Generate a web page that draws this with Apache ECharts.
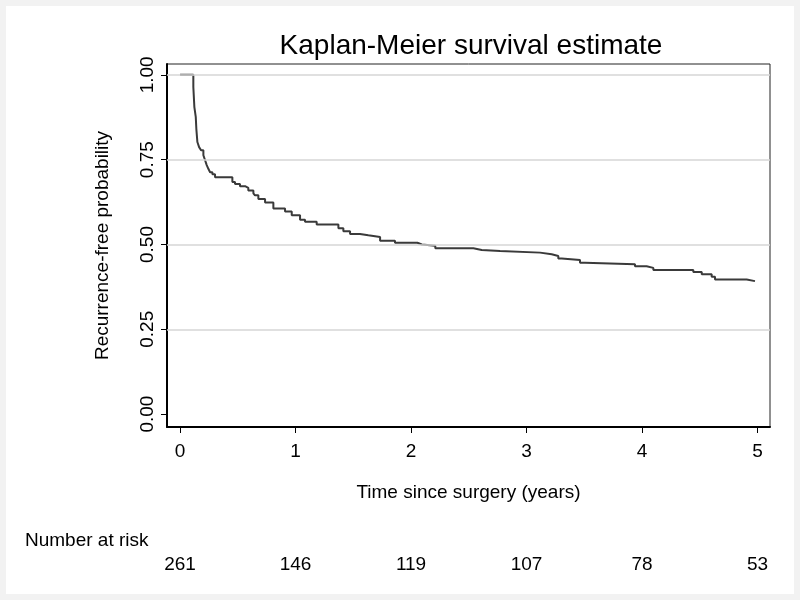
<!DOCTYPE html>
<html>
<head>
<meta charset="utf-8">
<script src="https://cdn.jsdelivr.net/npm/echarts@6/dist/echarts.min.js"></script>
<style>
  html, body { margin: 0; padding: 0; background: #f2f2f2; }
  #km { width: 800px; height: 600px; background: #fff; box-shadow: inset 0 0 0 6px #f2f2f2; }
</style>
</head>
<body>
<div id="km"></div>
<script>
// step times (years) and survival after each step
var timeYears = [0, 0.115, 0.124, 0.136, 0.141, 0.150, 0.165, 0.182, 0.202, 0.216, 0.231, 0.245, 0.260, 0.280, 0.303,
  0.453, 0.476, 0.519, 0.563, 0.591, 0.635, 0.649, 0.678, 0.736, 0.808, 0.909, 0.967, 1.039, 1.082, 1.183,
  1.371, 1.414, 1.472, 1.558, 1.630, 1.732, 1.861, 2.055, 2.093, 2.210, 2.540, 2.612, 2.771, 3.117, 3.218,
  3.275, 3.305, 3.463, 3.506, 3.939, 4.040, 4.098, 4.444, 4.517, 4.603, 4.632, 4.906, 4.978];
var survProb = [1.000, 0.964, 0.905, 0.876, 0.841, 0.802, 0.787, 0.778, 0.763, 0.749, 0.734, 0.723, 0.713, 0.707, 0.698,
  0.684, 0.678, 0.672, 0.667, 0.659, 0.651, 0.645, 0.634, 0.624, 0.606, 0.597, 0.586, 0.573, 0.567, 0.559,
  0.548, 0.539, 0.531, 0.527, 0.522, 0.511, 0.505, 0.500, 0.496, 0.489, 0.484, 0.481, 0.476, 0.471, 0.466,
  0.459, 0.454, 0.446, 0.442, 0.436, 0.431, 0.425, 0.419, 0.412, 0.405, 0.397, 0.392, 0.392];
var xTicks = [0, 1, 2, 3, 4, 5];
var yTicks = [0, 0.25, 0.5, 0.75, 1];
var yGridVals = [0.25, 0.5, 0.75, 1];
var atRisk = [261, 146, 119, 107, 78, 53];

var FONT = "'Liberation Sans', Arial, sans-serif";
var myChart = echarts.init(document.getElementById("km"));

var curve = timeYears.map(function (t, i) { return [t, survProb[i]]; });

var option = {
  animation: false,
  title: {
    text: "Kaplan-Meier survival estimate",
    left: 471, top: 32, padding: 0, textAlign: "center",
    textStyle: { fontFamily: FONT, fontSize: 28, fontWeight: "normal", color: "#000" }
  },
  graphic: [{
    type: "text", left: 25, top: 531,
    style: { text: "Number at risk", fontFamily: FONT, fontSize: 19, fill: "#000" }
  }],
  grid: [
    { left: 167, right: 30, top: 64, bottom: 173, show: true, borderColor: "#222", borderWidth: 1 },
    { left: 167, right: 30, top: 537, height: 10 }
  ],
  xAxis: [{
    type: "value", min: -0.113, max: 5.108,
    name: "Time since surgery (years)", nameLocation: "middle", nameGap: 56,
    nameTextStyle: { fontFamily: FONT, fontSize: 19, color: "#000" },
    axisLine: { show: true, onZero: false, lineStyle: { color: "#000", width: 2 } },
    axisTick: { show: true, length: 6, customValues: xTicks, lineStyle: { color: "#000" } },
    axisLabel: { customValues: xTicks, margin: 15, fontFamily: FONT, fontSize: 19, color: "#000" },
    splitLine: { show: false }
  }, {
    type: "value", gridIndex: 1, min: -0.113, max: 5.108,
    axisLine: { show: false }, axisTick: { show: false }, splitLine: { show: false },
    axisLabel: {
      customValues: xTicks, margin: 8, fontFamily: FONT, fontSize: 19, color: "#000",
      formatter: function (v) { return String(atRisk[xTicks.indexOf(v)]); }
    }
  }],
  yAxis: [{
    type: "value", min: -0.038, max: 1.032,
    name: "Recurrence-free probability", nameLocation: "middle", nameGap: 55,
    nameTextStyle: { fontFamily: FONT, fontSize: 19, color: "#000" },
    axisLine: { show: true, onZero: false, lineStyle: { color: "#000", width: 2 } },
    axisTick: { show: true, length: 6, customValues: yTicks, lineStyle: { color: "#000" } },
    axisLabel: {
      customValues: yTicks, rotate: 90, align: "center", verticalAlign: "bottom", margin: 10,
      fontFamily: FONT, fontSize: 19, color: "#000",
      formatter: function (v) { return v.toFixed(2); }
    },
    splitLine: { show: false }
  }, {
    type: "value", gridIndex: 1, show: false
  }],
  series: [{
    type: "line", z: 1, data: curve, showSymbol: false, silent: true,
    lineStyle: { width: 0, opacity: 0 },
    markLine: {
      silent: true, symbol: "none", label: { show: false },
      lineStyle: { color: "#d6d6d6", width: 1.6, type: "solid" },
      data: yGridVals.map(function (v) { return { yAxis: v }; })
    }
  }, {
    name: "KM", type: "line", z: 3, step: "end", data: curve, showSymbol: false,
    lineStyle: { color: "#3a3a3a", width: 2 }
  }, {
    type: "scatter", xAxisIndex: 1, yAxisIndex: 1, data: []
  }]
};
myChart.setOption(option);
</script>
</body>
</html>
